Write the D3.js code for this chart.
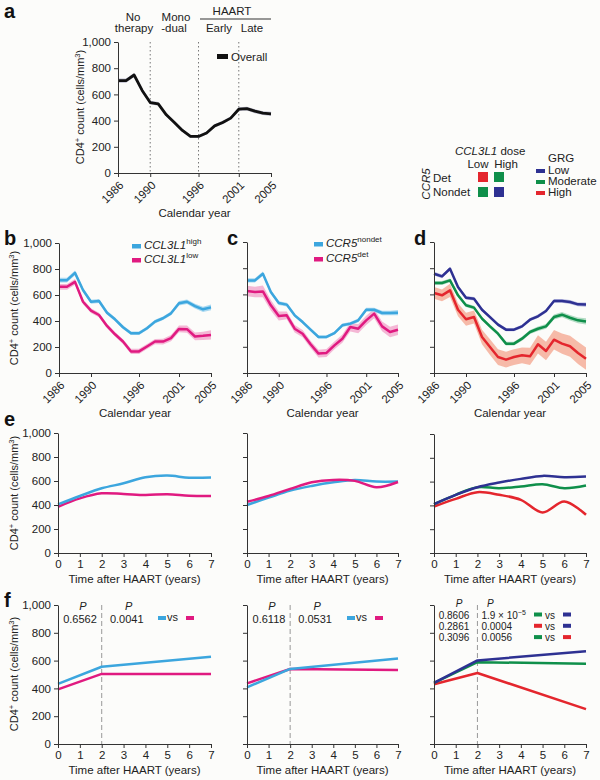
<!DOCTYPE html>
<html><head><meta charset="utf-8">
<script src="https://cdn.jsdelivr.net/npm/d3@7"></script>
<style>
body{margin:0;background:#fcfcfa;}
svg{display:block;font-family:"Liberation Sans",Arial,Helvetica,sans-serif;}
</style>
</head><body>
<svg id="c" width="600" height="780"></svg>
<script>
// ---------- DATA ----------
const years = [1986,1987,1988,1989,1990,1991,1992,1993,1994,1995,1996,1997,1998,1999,2000,2001,2002,2003,2004,2005];
const calTicks = [1986,1990,1996,2001,2005];
const yTicks = [0,200,400,600,800,1000];
const timeTicks = [0,1,2,3,4,5,6,7];

// panel a
const overall   = [705,705,748,630,538,528,444,386,325,279,279,305,360,386,419,487,492,472,457,452];
const overallSE = [16,16,16,15,14,14,13,13,12,12,12,12,13,13,13,14,14,15,15,16];

// panel b
const ccl3l1High   = [714,714,770,638,548,554,464,413,352,306,306,344,395,421,459,536,548,515,490,505];
const ccl3l1HighSE = [18,18,18,16,15,15,14,14,14,13,13,13,14,14,15,17,17,18,20,22];
const ccl3l1Low    = [663,663,701,548,480,446,362,298,242,166,166,204,242,242,268,339,337,281,286,293];
const ccl3l1LowSE  = [22,22,22,20,18,18,17,17,18,20,20,20,20,22,24,26,28,30,32,35];

// panel c
const ccr5Nondet   = [707,707,758,618,534,522,440,389,331,275,275,305,364,377,402,483,483,458,458,460];
const ccr5NondetSE = [16,16,16,15,14,14,13,13,13,12,12,12,13,13,14,16,16,17,18,20];
const ccr5Det      = [626,618,623,517,435,440,338,300,219,148,153,211,262,351,338,402,453,356,313,330];
const ccr5DetSE    = [40,40,45,40,35,30,28,28,28,30,30,30,32,35,35,35,35,38,40,40];

// panel d
const grgLow    = [758,738,796,656,575,567,483,427,369,331,331,356,407,433,473,550,550,542,524,522];
const grgLowSE  = [14,14,14,13,13,13,12,12,12,12,12,12,12,13,13,14,14,15,15,16];
const grgMod    = [687,687,707,593,517,499,415,356,300,224,224,262,313,338,356,427,445,422,402,394];
const grgModSE  = [15,15,15,15,14,14,14,14,14,15,15,15,16,17,18,19,20,21,22,23];
const grgHigh   = [611,593,631,483,410,427,275,198,122,102,122,135,127,219,168,254,224,204,153,109];
const grgHighSE = [45,45,50,50,50,50,55,60,60,60,60,60,65,70,70,75,78,80,85,85];

// panel e (smoothed trajectories, years after HAART)
const eHigh    = [405,475,539,581,631,645,628,630];
const eLow     = [385,455,497,492,483,490,478,476];
const eNondet  = [400,461,520,559,589,609,595,595];
const eDet     = [427,475,534,589,609,601,548,592];
const eGrgLow  = [411,489,553,592,623,648,637,642];
const eGrgMod  = [411,489,553,545,559,578,545,567];
const eGrgHigh = [391,455,511,489,447,341,433,321];

// panel f (piecewise linear fits)
const fTimes    = [0,2,7];
const fHigh     = [432,556,628];
const fLow      = [393,504,504];
const fNondet   = [408,540,615];
const fDet      = [436,540,532];
const fGrgLow   = [439,601,668];
const fGrgMod   = [439,589,577];
const fGrgHigh  = [430,511,251];

const pCCL3L1 = ["0.6562","0.0041"];
const pCCR5   = ["0.6118","0.0531"];
const pGRGBefore = ["0.8606","0.2861","0.3096"];
const pGRGAfter  = ["1.9 \u00d7 10","0.0004","0.0056"];

// ---------- STYLE ----------
const C = {
  blue:"#3ca6de", pink:"#e01a80", navy:"#2e3192", green:"#0f8f4a", red:"#e4262d", black:"#111",
  blueB:"#8fcdee", pinkB:"#f1a0c8", navyB:"#a3a5d8", greenB:"#9bd2b1", redB:"#f4a48c", blackB:"#a8a8c0"
};
const svg = d3.select("#c");
const TXT = "#222";

function styleAxis(g){
  g.selectAll(".domain").attr("stroke","#333");
  g.selectAll(".tick line").attr("stroke","#333");
  g.selectAll(".tick text").attr("fill",TXT).attr("font-size",11.5).attr("font-family",null);
}

function yLabel(xb, cy){
  const t = svg.append("text").attr("transform",`translate(${xb},${cy}) rotate(-90)`)
    .attr("text-anchor","middle").attr("font-size",11).attr("fill",TXT);
  t.append("tspan").text("CD4");
  t.append("tspan").attr("dy",-4).attr("font-size",7.5).text("+");
  t.append("tspan").attr("dy",4).text(" count (cells/mm");
  t.append("tspan").attr("dy",-4).attr("font-size",7.5).text("3");
  t.append("tspan").attr("dy",4).text(")");
}

function letter(ch, x, y){
  svg.append("text").attr("x",x).attr("y",y).attr("font-size",20).attr("font-weight","bold").attr("fill","#111").text(ch);
}

function calPanel(x0,x1,yT,yB,showY,series,lw){
  const g = svg.append("g");
  const x = d3.scaleLinear().domain([1986,2005]).range([x0,x1]);
  const y = d3.scaleLinear().domain([0,1000]).range([yB,yT]);
  series.forEach(s=>{
    const area = d3.area().x((d,i)=>x(years[i])).y0((d,i)=>y(d-s.se[i])).y1((d,i)=>y(d+s.se[i]));
    g.append("path").attr("d",area(s.v)).attr("fill",s.band).attr("opacity",0.75);
  });
  series.forEach(s=>{
    const line = d3.line().x((d,i)=>x(years[i])).y(d=>y(d));
    g.append("path").attr("d",line(s.v)).attr("fill","none").attr("stroke",s.c).attr("stroke-width",lw||2.5).attr("stroke-linejoin","round");
  });
  const ya = g.append("g").attr("transform",`translate(${x0},0)`)
    .call(d3.axisLeft(y).tickValues(yTicks).tickFormat(showY?d3.format(","):()=>"").tickSize(4).tickSizeOuter(0));
  styleAxis(ya);
  const xa = g.append("g").attr("transform",`translate(0,${yB})`)
    .call(d3.axisBottom(x).tickValues(calTicks).tickFormat(d3.format("d")).tickSize(4).tickSizeOuter(0));
  styleAxis(xa);
  xa.selectAll(".tick text").attr("y",0).attr("dy","0.35em").attr("text-anchor","end")
    .attr("transform","translate(3,10) rotate(-45)");
  svg.append("text").attr("x",(x0+x1)/2).attr("y",yB+44).attr("text-anchor","middle")
    .attr("font-size",11.5).attr("fill",TXT).text("Calendar year");
  return {x,y,g};
}

function timePanel(x0,x1,yT,yB,showY,times,series,smooth){
  const g = svg.append("g");
  const x = d3.scaleLinear().domain([0,7]).range([x0,x1]);
  const y = d3.scaleLinear().domain([0,1000]).range([yB,yT]);
  series.forEach(s=>{
    const line = d3.line().x((d,i)=>x(times[i])).y(d=>y(d)).curve(smooth?d3.curveCatmullRom.alpha(0.5):d3.curveLinear);
    g.append("path").attr("d",line(s.v)).attr("fill","none").attr("stroke",s.c).attr("stroke-width",2.5).attr("stroke-linejoin","round");
  });
  const ya = g.append("g").attr("transform",`translate(${x0},0)`)
    .call(d3.axisLeft(y).tickValues(yTicks).tickFormat(showY?d3.format(","):()=>"").tickSize(4).tickSizeOuter(0));
  styleAxis(ya);
  const xa = g.append("g").attr("transform",`translate(0,${yB})`)
    .call(d3.axisBottom(x).tickValues(timeTicks).tickFormat(d3.format("d")).tickSize(4).tickSizeOuter(0));
  styleAxis(xa);
  svg.append("text").attr("x",(x0+x1)/2).attr("y",yB+30).attr("text-anchor","middle")
    .attr("font-size",11.5).attr("fill",TXT).text("Time after HAART (years)");
  return {x,y,g};
}

// ---------- PANEL a ----------
const pa = calPanel(118,271,42,173,true,[{v:overall,se:overallSE,c:C.black,band:C.blackB}],2.8);
[1990,1996,2001].forEach(yr=>{
  pa.g.insert("line",":first-child").attr("x1",pa.x(yr)).attr("x2",pa.x(yr)).attr("y1",42).attr("y2",173)
    .attr("stroke","#777").attr("stroke-width",1).attr("stroke-dasharray","1.5,2.5");
});
letter("a",4,18);
yLabel(84,107);
const topT = (t,x,y)=>svg.append("text").attr("x",x).attr("y",y).attr("text-anchor","middle").attr("font-size",11.5).attr("fill",TXT).text(t);
topT("No",133,21); topT("therapy",134,32);
topT("Mono",176,21); topT("-dual",174,32);
topT("HAART",232,15); topT("Early",219,32); topT("Late",252,32);
svg.append("line").attr("x1",200).attr("x2",271).attr("y1",19).attr("y2",19).attr("stroke","#333").attr("stroke-width",1);
svg.append("rect").attr("x",217).attr("y",54).attr("width",11).attr("height",5).attr("fill",C.black);
svg.append("text").attr("x",231).attr("y",61).attr("font-size",11.5).attr("fill",TXT).text("Overall");

// ---------- top right legend ----------
(function(){
  const t = svg.append("text").attr("x",455).attr("y",155).attr("font-size",11.5).attr("fill",TXT);
  t.append("tspan").attr("font-style","italic").text("CCL3L1");
  t.append("tspan").text(" dose");
  topT("Low",478,168); topT("High",506,168);
  const sq = [[478,172,C.red],[494,172,C.green],[478,187,C.green],[494,187,C.navy]];
  sq.forEach(s=>svg.append("rect").attr("x",s[0]).attr("y",s[1]).attr("width",10).attr("height",10).attr("fill",s[2]));
  svg.append("text").attr("x",433).attr("y",182).attr("font-size",11.5).attr("fill",TXT).text("Det");
  svg.append("text").attr("x",433).attr("y",196).attr("font-size",11.5).attr("fill",TXT).text("Nondet");
  svg.append("text").attr("transform","translate(430,184) rotate(-90)").attr("text-anchor","middle")
    .attr("font-size",11.5).attr("font-style","italic").attr("fill",TXT).text("CCR5");
  svg.append("text").attr("x",548).attr("y",162).attr("font-size",11.5).attr("fill",TXT).text("GRG");
  [["Low",C.navy,174],["Moderate",C.green,185],["High",C.red,196]].forEach(r=>{
    svg.append("rect").attr("x",536).attr("y",r[2]-5).attr("width",9).attr("height",4).attr("fill",r[1]);
    svg.append("text").attr("x",548).attr("y",r[2]).attr("font-size",11.5).attr("fill",TXT).text(r[0]);
  });
})();

// ---------- PANELS b c d ----------
calPanel(59,211,243,373,true,[
  {v:ccl3l1Low,se:ccl3l1LowSE,c:C.pink,band:C.pinkB},
  {v:ccl3l1High,se:ccl3l1HighSE,c:C.blue,band:C.blueB}]);
calPanel(247,398,242,373,false,[
  {v:ccr5Det,se:ccr5DetSE,c:C.pink,band:C.pinkB},
  {v:ccr5Nondet,se:ccr5NondetSE,c:C.blue,band:C.blueB}]);
calPanel(434,586,242,373,false,[
  {v:grgHigh,se:grgHighSE,c:C.red,band:C.redB},
  {v:grgMod,se:grgModSE,c:C.green,band:C.greenB},
  {v:grgLow,se:grgLowSE,c:C.navy,band:C.navyB}]);
letter("b",4,245); letter("c",227,245); letter("d",414,245);
yLabel(18,308);

function supLegend(x,y,base,sup,color){
  svg.append("rect").attr("x",x).attr("y",y-5).attr("width",9).attr("height",4.5).attr("fill",color);
  const t = svg.append("text").attr("x",x+12).attr("y",y).attr("font-size",11.5).attr("fill",TXT);
  t.append("tspan").attr("font-style","italic").text(base);
  t.append("tspan").attr("dy",-5).attr("font-size",8).text(sup);
}
supLegend(132,249,"CCL3L1","high",C.blue);
supLegend(132,263,"CCL3L1","low",C.pink);
supLegend(314,247,"CCR5","nondet",C.blue);
supLegend(314,262,"CCR5","det",C.pink);

// ---------- PANELS e ----------
timePanel(58,211,433,553,true,timeTicks,[{v:eLow,c:C.pink},{v:eHigh,c:C.blue}],true);
timePanel(247,398,433,553,false,timeTicks,[{v:eNondet,c:C.blue},{v:eDet,c:C.pink}],true);
timePanel(434,586,434,553,false,timeTicks,[{v:eGrgHigh,c:C.red},{v:eGrgMod,c:C.green},{v:eGrgLow,c:C.navy}],true);
letter("e",4,426);
yLabel(18,493);

// ---------- PANELS f ----------
function fPanel(x0,x1,showY,series){
  const p = timePanel(x0,x1,605,744,showY,fTimes,series,false);
  p.g.insert("line",":first-child").attr("x1",p.x(2)).attr("x2",p.x(2)).attr("y1",605).attr("y2",744)
    .attr("stroke","#999").attr("stroke-width",1).attr("stroke-dasharray","5,3");
  return p;
}
const txt = (t,x,y,anchor,italic,fs)=>svg.append("text").attr("x",x).attr("y",y).attr("text-anchor",anchor||"middle")
  .attr("font-size",fs||11).attr("font-style",italic?"italic":null).attr("fill",TXT).text(t);

[[58,211,true,[{v:fLow,c:C.pink},{v:fHigh,c:C.blue}],pCCL3L1],
 [247,398,false,[{v:fDet,c:C.pink},{v:fNondet,c:C.blue}],pCCR5]].forEach(cfg=>{
  const p = fPanel(cfg[0],cfg[1],cfg[2],cfg[3]);
  const x0 = cfg[0], x2 = p.x(2);
  txt("P",x0+25,610,"middle",true); txt(cfg[4][0],x0+22,623);
  txt("P",x2+27,610,"middle",true); txt(cfg[4][1],x2+25,623);
  svg.append("rect").attr("x",x0+100).attr("y",616).attr("width",8).attr("height",4).attr("fill",C.blue);
  txt("vs",x0+109,621,"start");
  svg.append("rect").attr("x",x0+128).attr("y",616).attr("width",8).attr("height",4).attr("fill",C.pink);
});

(function(){
  const p = fPanel(434,586,false,[{v:fGrgHigh,c:C.red},{v:fGrgMod,c:C.green},{v:fGrgLow,c:C.navy}]);
  const x0 = 434, x2 = p.x(2);
  txt("P",x0+25,607,"middle",true,10);
  txt("P",x2+13,607,"middle",true,10);
  const rows = [618.5,629.8,641.1];
  const pairs = [[C.green,C.navy],[C.red,C.navy],[C.green,C.red]];
  rows.forEach((ry,i)=>{
    txt(pGRGBefore[i],x0+20,ry,"middle",false,10);
    const t = txt(pGRGAfter[i],x2+4,ry,"start",false,10);
    if(i===0){ t.append("tspan").attr("dy",-4).attr("font-size",7).text("\u22125"); }
    svg.append("rect").attr("x",534).attr("y",ry-6).attr("width",8).attr("height",4).attr("fill",pairs[i][0]);
    txt("vs",545,ry,"start",false,10);
    svg.append("rect").attr("x",563).attr("y",ry-6).attr("width",8).attr("height",4).attr("fill",pairs[i][1]);
  });
})();
letter("f",4,607);
yLabel(18,674);
</script>
</body></html>
